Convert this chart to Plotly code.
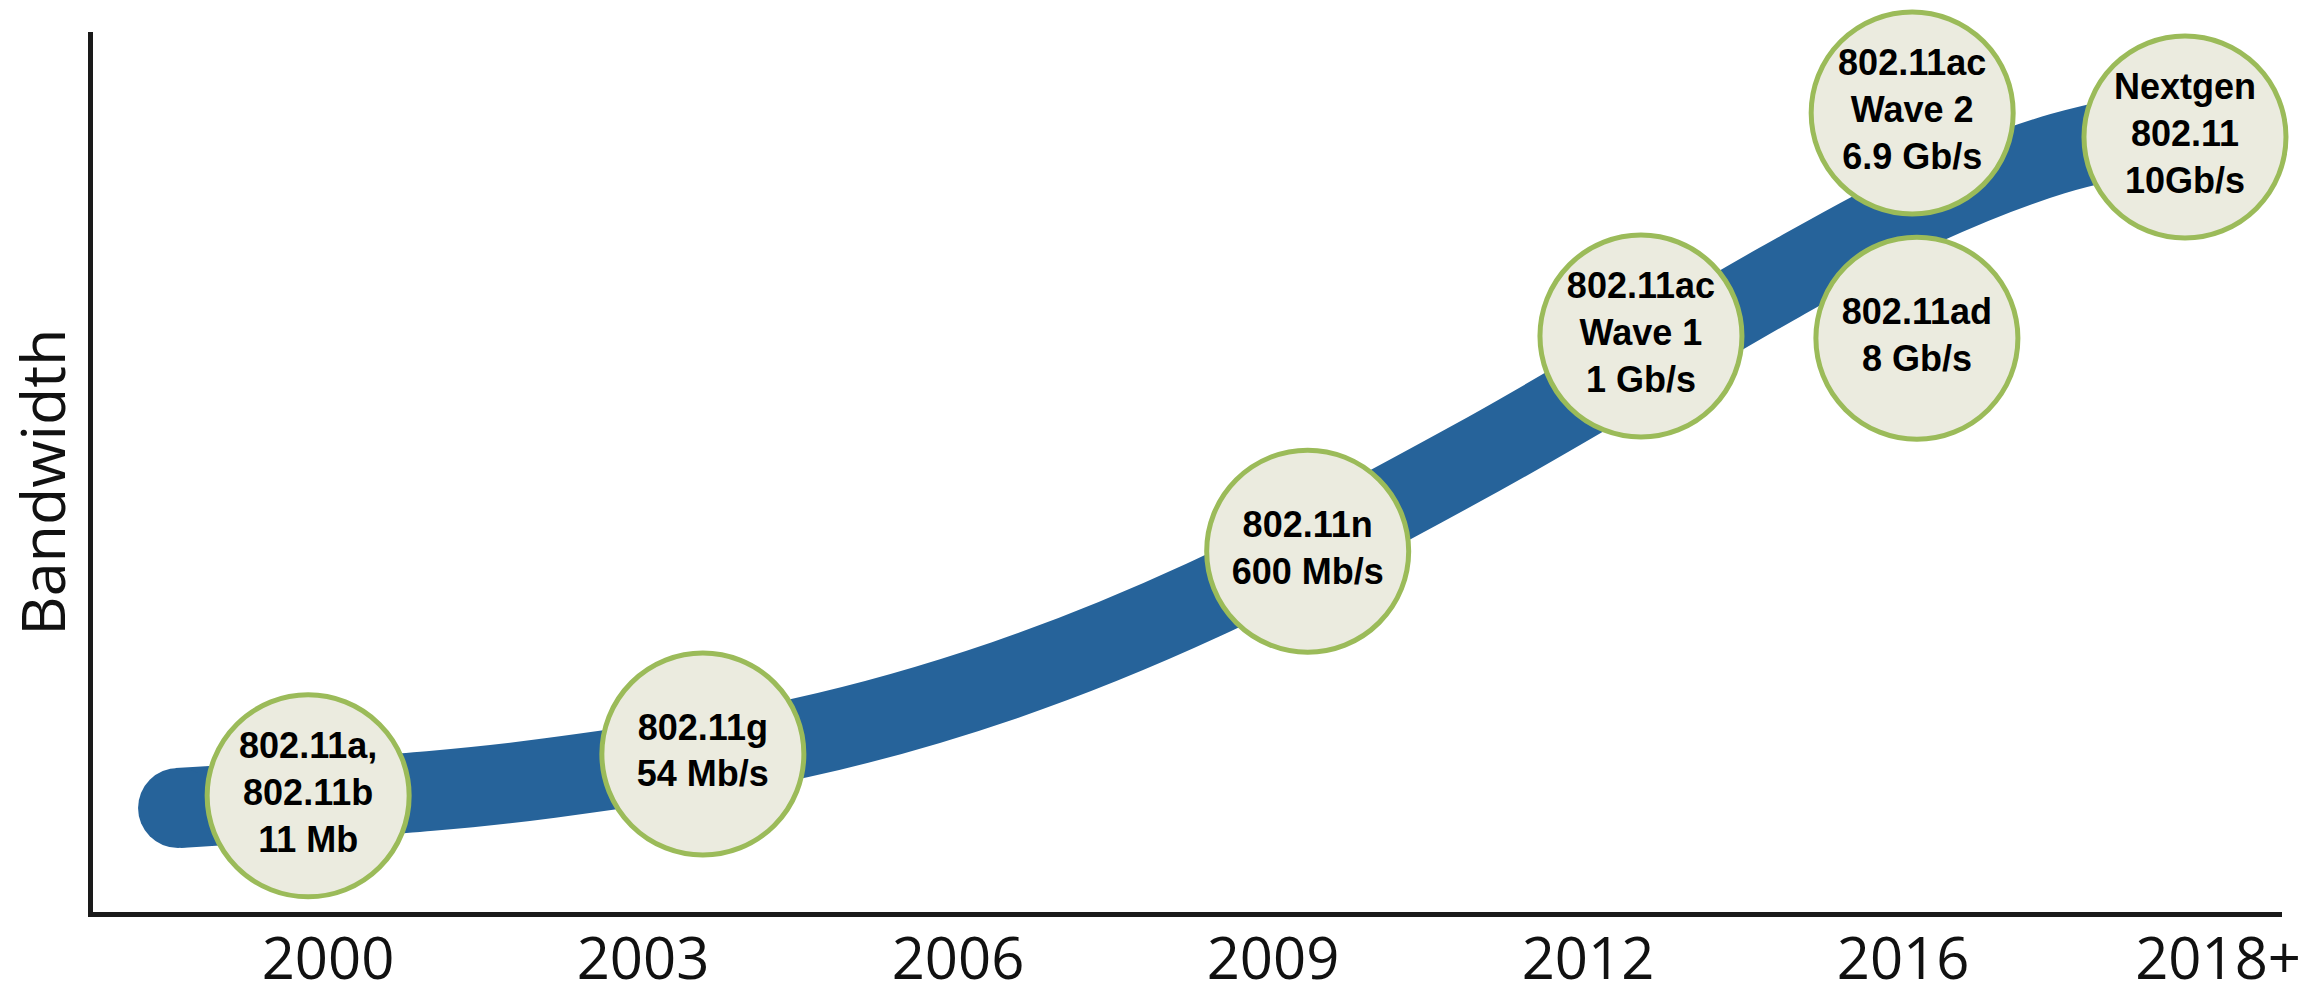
import plotly.graph_objects as go

# ---- data ----
years = ["2000", "2003", "2006", "2009", "2012", "2016", "2018+"]

# bandwidth growth curve (x in year-slot units, y in relative bandwidth 0-100)
curve_x = [-0.476, 0.324, 0.705, 1.498, 2.149, 2.778, 3.657, 4.610, 5.054, 5.476, 5.895]
curve_y = [11.82, 13.75, 15.23, 19.77, 26.36, 35.45, 51.82, 71.59, 80.11, 86.02, 89.43]

# standards bubbles
std_labels = [
    "802.11a,<br>802.11b<br>11 Mb",
    "802.11g<br>54 Mb/s",
    "802.11n<br>600 Mb/s",
    "802.11ac<br>Wave 1<br>1 Gb/s",
    "802.11ac<br>Wave 2<br>6.9 Gb/s",
    "802.11ad<br>8 Gb/s",
    "Nextgen<br>802.11<br>10Gb/s",
]
std_x = [-0.063, 1.19, 3.11, 4.168, 5.029, 5.044, 5.895]
std_y = [13.2, 17.95, 41.0, 65.45, 90.8, 65.2, 88.07]

BLUE = "#26639A"
GREEN = "#9BBB59"
FILL = "#EBEBDF"

fig = go.Figure()

# thick curve
fig.add_trace(go.Scatter(
    x=curve_x, y=curve_y, mode="lines",
    line=dict(color=BLUE, width=80, shape="spline", smoothing=0.9),
    hoverinfo="skip", cliponaxis=False, showlegend=False,
))
# rounded start cap
fig.add_trace(go.Scatter(
    x=curve_x[:1], y=curve_y[:1], mode="markers",
    marker=dict(color=BLUE, size=80, line=dict(width=0)),
    hoverinfo="skip", cliponaxis=False, showlegend=False,
))
# bubbles
fig.add_trace(go.Scatter(
    x=std_x, y=std_y, mode="markers+text",
    text=std_labels, textposition="middle center",
    textfont=dict(family="Liberation Sans Narrow, Arial Narrow, Liberation Sans, Arial",
                  size=36, color="#000000", weight="bold"),
    marker=dict(color=FILL, size=202, line=dict(color=GREEN, width=5), opacity=1),
    hoverinfo="skip", cliponaxis=False, showlegend=False,
))

fig.update_layout(
    width=2311, height=995,
    margin=dict(l=93, r=29, t=32, b=83),
    paper_bgcolor="white", plot_bgcolor="white",
    showlegend=False, hovermode=False,
    font=dict(family="Open Sans, Segoe UI, sans-serif", color="#111111"),
    xaxis=dict(
        range=[-0.746, 6.203], tickmode="array",
        tickvals=list(range(len(years))), ticktext=years,
        showgrid=False, zeroline=False, showline=True, automargin=False,
        linecolor="#1a1a1a", linewidth=5, ticks="", ticklabelstandoff=-8,
        tickfont=dict(size=58, family="Open Sans, Segoe UI, sans-serif", color="#111111", weight=400),
        fixedrange=True,
    ),
    yaxis=dict(
        range=[0, 100], showgrid=False, zeroline=False, showline=True, automargin=False,
        linecolor="#1a1a1a", linewidth=5, ticks="", showticklabels=False,
        fixedrange=True,
    ),
    annotations=[dict(
        text="Bandwidth", textangle=-90, xref="paper", yref="paper",
        x=-0.0233, y=0.489, xanchor="center", yanchor="middle", showarrow=False,
        font=dict(size=61, family="Open Sans, Segoe UI, sans-serif", color="#111111", weight=400),
    )],
)

fig.write_html("out.html", config={"displayModeBar": False})
